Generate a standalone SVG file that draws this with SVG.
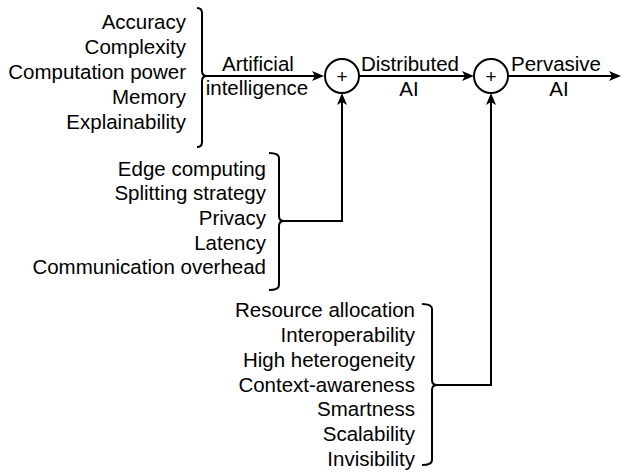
<svg xmlns="http://www.w3.org/2000/svg" width="623" height="472" viewBox="0 0 623 472">
<defs>
<style>
.t{font-family:"Liberation Sans",Arial,sans-serif;font-size:20.5px;fill:#000}
.r{text-anchor:end}
.m{text-anchor:middle}
.ln{fill:none;stroke:#000;stroke-width:2}
.p{font-family:"Liberation Sans",Arial,sans-serif;font-size:19px;text-anchor:middle;fill:#000}
</style>
<marker id="ah" viewBox="0 0 12 10" refX="6" refY="5" markerWidth="12" markerHeight="10" markerUnits="userSpaceOnUse" orient="auto">
<path d="M0,0 L12,5 L0,10 L3,5 z" fill="#000"/>
</marker>
</defs>
<rect width="623" height="472" fill="#fff"/>
<g id="ai-factors">
<text class="t r" x="186" y="29">Accuracy</text>
<text class="t r" x="186" y="54">Complexity</text>
<text class="t r" x="186" y="79">Computation power</text>
<text class="t r" x="186" y="104">Memory</text>
<text class="t r" x="186" y="129">Explainability</text>
<path class="ln" d="M197,8 Q202,8 202,13 L202,71 Q202,76 207,76 Q202,76 202,81 L202,142 Q202,147 197,147"/>
</g>
<g id="dai-factors">
<text class="t r" x="266" y="176">Edge computing</text>
<text class="t r" x="266" y="200">Splitting strategy</text>
<text class="t r" x="266" y="225">Privacy</text>
<text class="t r" x="266" y="250">Latency</text>
<text class="t r" x="266" y="274">Communication overhead</text>
<path class="ln" d="M269,153 Q279,153 279,158 L279,216 Q279,221 284,221 Q279,221 279,226 L279,285 Q279,290 269,290"/>
</g>
<g id="pai-factors">
<text class="t r" x="415" y="317">Resource allocation</text>
<text class="t r" x="415" y="342">Interoperability</text>
<text class="t r" x="415" y="367">High heterogeneity</text>
<text class="t r" x="415" y="392">Context-awareness</text>
<text class="t r" x="415" y="416">Smartness</text>
<text class="t r" x="415" y="441">Scalability</text>
<text class="t r" x="415" y="466">Invisibility</text>
<path class="ln" d="M422,304 Q432,304 432,309 L432,380 Q432,385 437,385 Q432,385 432,390 L432,460 Q432,465 422,465"/>
</g>
<g id="sum1">
<circle class="ln" cx="342" cy="76" r="17"/>
<text class="p" x="342" y="82.5">+</text>
</g>
<g id="sum2">
<circle class="ln" cx="491" cy="76" r="17"/>
<text class="p" x="491" y="82.5">+</text>
</g>
<g id="connectors">
<path class="ln" d="M207,76 L318,76" marker-end="url(#ah)"/>
<path class="ln" d="M359,76 L468,76" marker-end="url(#ah)"/>
<path class="ln" d="M508,76 L615,76" marker-end="url(#ah)"/>
<path class="ln" d="M284,221 L342,221 L342,99" marker-end="url(#ah)"/>
<path class="ln" d="M437,385 L491,385 L491,99" marker-end="url(#ah)"/>
<text class="t m" x="258" y="71">Artificial</text>
<text class="t m" x="257" y="95">intelligence</text>
<text class="t m" x="410" y="71">Distributed</text>
<text class="t m" x="409" y="96">AI</text>
<text class="t m" x="556" y="71">Pervasive</text>
<text class="t m" x="559" y="96">AI</text>
</g>
</svg>
